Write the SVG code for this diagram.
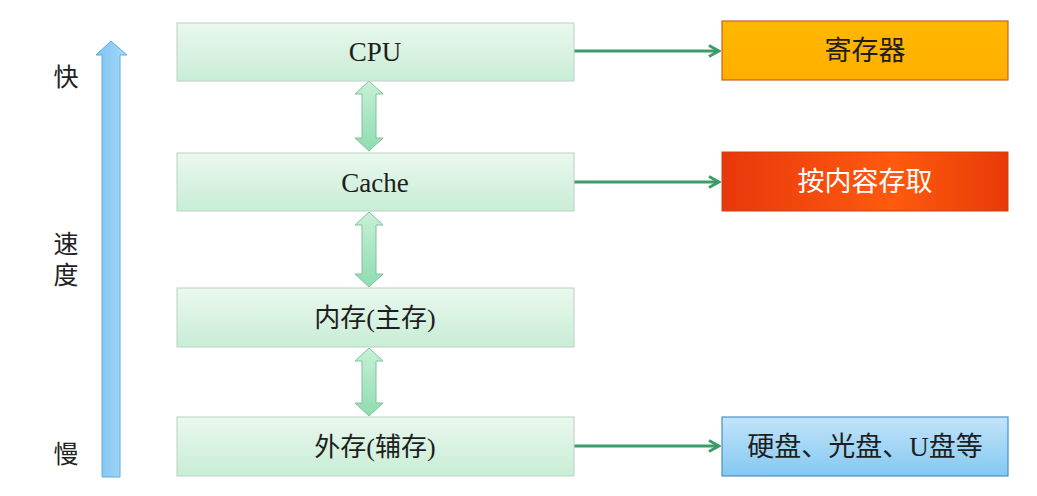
<svg xmlns="http://www.w3.org/2000/svg" width="1037" height="496" viewBox="0 0 1037 496">
<defs>
<linearGradient id="gGreen" x1="0" y1="0" x2="0" y2="1">
<stop offset="0" stop-color="#eaf8ee"/>
<stop offset="1" stop-color="#c8edd5"/>
</linearGradient>
<linearGradient id="gOrange" x1="0" y1="0" x2="0" y2="1">
<stop offset="0" stop-color="#ffb800"/>
<stop offset="1" stop-color="#ffae00"/>
</linearGradient>
<linearGradient id="gRed" x1="0" y1="0" x2="1" y2="0">
<stop offset="0" stop-color="#e8380c"/>
<stop offset="0.6" stop-color="#ff5a0e"/>
<stop offset="1" stop-color="#e83a08"/>
</linearGradient>
<linearGradient id="gBlue" x1="0" y1="0" x2="0" y2="1">
<stop offset="0" stop-color="#c2e4fa"/>
<stop offset="1" stop-color="#84c8f0"/>
</linearGradient>
<linearGradient id="gBlueArrow" x1="0" y1="0" x2="1" y2="0">
<stop offset="0" stop-color="#7cc4f2"/>
<stop offset="1" stop-color="#a8d8f8"/>
</linearGradient>
<linearGradient id="gDbl" x1="0" y1="0" x2="0" y2="1">
<stop offset="0" stop-color="#c8f0d6"/>
<stop offset="1" stop-color="#8edcb0"/>
</linearGradient>
<marker id="ah" viewBox="0 0 14 14" refX="12" refY="7" markerWidth="14" markerHeight="14" markerUnits="userSpaceOnUse" orient="auto">
<path d="M2,1.5 L12,7 L2,12.5" fill="none" stroke="#3c9c68" stroke-width="3" stroke-linejoin="miter"/>
</marker>
</defs>
<style>
.gbox{fill:url(#gGreen);stroke:#c4d8cb;stroke-width:1.2}
.lbl{font-family:"Liberation Serif","Noto Sans CJK SC",serif;font-size:26px;fill:#1e1e1e;text-anchor:middle;dominant-baseline:central}
.lat{font-size:27px}
.side{font-family:"Liberation Serif","Noto Sans CJK SC",serif;font-size:25px;fill:#222;text-anchor:middle;dominant-baseline:central}
.conn{stroke:#3c9c68;stroke-width:3;fill:none}
.dbl{fill:url(#gDbl);stroke:#7cc49a;stroke-width:1}
</style>
<rect width="1037" height="496" fill="#ffffff"/>

<g id="speed-axis">
<path d="M102,477 L102,55 L96,55 L111,41 L127,55 L120,55 L120,477 Z" fill="url(#gBlueArrow)" stroke="#5aaee0" stroke-width="1"/>
<text class="side" x="66" y="77">快</text>
<text class="side" x="66" y="244">速</text>
<text class="side" x="66" y="275">度</text>
<text class="side" x="66" y="454">慢</text>
</g>

<g id="connectors">
<line class="conn" x1="574" y1="51" x2="719" y2="51" marker-end="url(#ah)"/>
<line class="conn" x1="574" y1="182" x2="719" y2="182" marker-end="url(#ah)"/>
<line class="conn" x1="574" y1="446" x2="719" y2="446" marker-end="url(#ah)"/>
<path class="dbl" d="M369,81 L383,94 L376,94 L376,138 L383,138 L369,151 L355,138 L362,138 L362,94 L355,94 Z"/>
<path class="dbl" d="M369,212 L383,225 L376,225 L376,274 L383,274 L369,287 L355,274 L362,274 L362,225 L355,225 Z"/>
<path class="dbl" d="M369,348 L383,361 L376,361 L376,403 L383,403 L369,416 L355,403 L362,403 L362,361 L355,361 Z"/>
</g>

<g id="cpu">
<rect class="gbox" x="177" y="23" width="397" height="58"/>
<text class="lbl lat" x="375" y="52">CPU</text>
</g>
<g id="cache">
<rect class="gbox" x="177" y="153" width="397" height="58"/>
<text class="lbl lat" x="375" y="183">Cache</text>
</g>
<g id="main-memory">
<rect class="gbox" x="177" y="288" width="397" height="59"/>
<text class="lbl" x="375" y="318">内存(主存)</text>
</g>
<g id="external-memory">
<rect class="gbox" x="177" y="417" width="397" height="59"/>
<text class="lbl" x="375" y="447">外存(辅存)</text>
</g>

<g id="register">
<rect x="722" y="21" width="286" height="59" fill="url(#gOrange)" stroke="#c8602a" stroke-width="1.2"/>
<text class="lbl" x="865" y="51" style="font-size:27px">寄存器</text>
</g>
<g id="content-access">
<rect x="722" y="152" width="286" height="59" fill="url(#gRed)" stroke="#d04010" stroke-width="1"/>
<text class="lbl" x="865" y="182" style="fill:#ffffff;font-size:27px">按内容存取</text>
</g>
<g id="storage-devices">
<rect x="722" y="417" width="286" height="59" fill="url(#gBlue)" stroke="#4a90c4" stroke-width="1.2"/>
<text class="lbl" x="865" y="447" style="font-size:27px">硬盘、光盘、U盘等</text>
</g>
</svg>
